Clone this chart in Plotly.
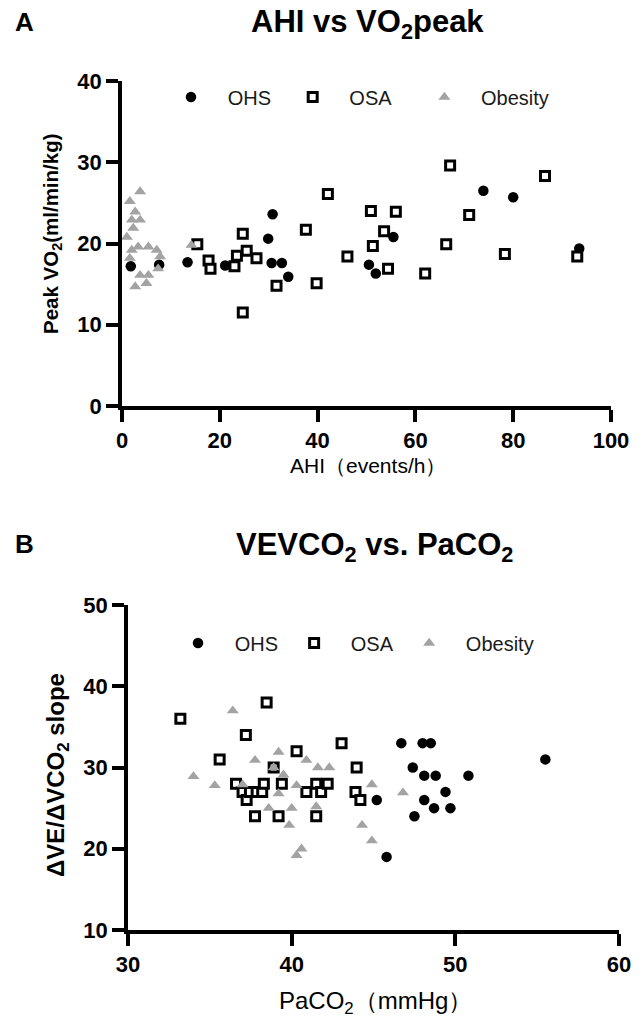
import plotly.graph_objects as go

W, H = 644, 1021
FONT = "Liberation Sans, Arial, sans-serif"
NB = "\u00a0"

# ---------------- Panel A data: AHI (events/h) vs Peak VO2 ----------------
ohs_ahi = [1.8, 7.6, 13.4, 21.1, 29.9, 30.8, 30.6, 32.7, 34.0, 50.5, 51.9, 55.5, 73.9, 80.0, 93.5]
ohs_vo2 = [17.2, 17.4, 17.7, 17.3, 20.6, 23.6, 17.6, 17.6, 15.9, 17.4, 16.3, 20.8, 26.5, 25.7, 19.4]

osa_ahi = [15.4, 17.7, 18.1, 23.0, 23.5, 25.5, 27.5, 24.7, 31.6, 24.7,
           67.1, 86.5, 42.1, 50.9, 56.0, 71.0, 37.6, 53.6, 51.3, 66.3,
           46.1, 78.3, 93.1, 54.4, 62.0, 39.8]
osa_vo2 = [19.9, 17.9, 16.9, 17.2, 18.5, 19.1, 18.2, 21.2, 14.8, 11.5,
           29.6, 28.3, 26.1, 24.0, 23.9, 23.5, 21.7, 21.5, 19.7, 19.9,
           18.4, 18.7, 18.4, 16.9, 16.3, 15.1]

obe_ahi = [3.7, 1.6, 2.7, 3.7, 2.0, 2.3, 1.0, 2.0, 3.3, 5.4,
           7.1, 7.8, 1.6, 7.4, 3.7, 5.4, 2.7, 5.0, 14.2]
obe_vo2 = [26.4, 25.2, 23.9, 22.9, 22.9, 21.9, 20.8, 19.2, 19.6, 19.6,
           19.2, 18.4, 18.2, 16.9, 16.1, 16.1, 14.7, 15.1, 19.8]

# ---------------- Panel B data: PaCO2 vs VE/VCO2 slope ----------------
ohs_paco2 = [46.7, 48.0, 48.5, 55.5, 47.4, 48.1, 48.8, 50.8, 49.4, 45.2, 48.1, 48.7, 49.7, 47.5, 45.8]
ohs_slope = [33, 33, 33, 31, 30, 29, 29, 29, 27, 26, 26, 25, 25, 24, 19]

osa_paco2 = [33.2, 35.6, 36.6, 37.0, 37.2, 37.25, 37.45, 37.76, 37.86, 38.2,
             38.3, 38.47, 38.9, 39.2, 39.4, 40.3, 40.9, 41.5, 41.5, 41.8,
             42.2, 43.05, 43.9, 43.97, 44.2]
osa_slope = [36, 31, 28, 27, 34, 26, 27, 24, 27, 27,
             28, 38, 30, 24, 28, 32, 27, 28, 24, 27,
             28, 33, 27, 30, 26]

obe_paco2 = [34.0, 35.3, 36.4, 37.0, 37.76, 38.9, 39.2, 39.5, 39.2, 38.6,
             40.0, 39.85, 40.3, 40.3, 40.6, 40.9, 41.6, 42.3, 44.9, 46.8,
             41.5, 44.3, 44.9]
obe_slope = [28.9, 27.8, 37.0, 27.9, 30.9, 30.0, 31.9, 29.1, 26.8, 25.0,
             25.0, 22.9, 27.8, 19.2, 20.0, 30.9, 30.0, 30.0, 27.9, 26.9,
             25.2, 22.9, 21.0]

group_names = ["OHS", "OSA", "Obesity"]
xticks_a = [0, 20, 40, 60, 80, 100]
yticks_a = [0, 10, 20, 30, 40]
xticks_b = [30, 40, 50, 60]
yticks_b = [10, 20, 30, 40, 50]

GRAY = "#A3A3A3"


def px(x):
    return x / W


def py(y):
    return 1 - y / H


def styles(name):
    if name == "OHS":
        return dict(symbol="circle", size=10.5, color="black")
    if name == "OSA":
        return dict(symbol="square", size=9, color="white", line=dict(color="black", width=3))
    return dict(symbol="triangle-up", size=10.5, color=GRAY)


fig = go.Figure()

pad_front = NB * 3
pad_back_a = {"OHS": NB * 3, "OSA": NB * 5, "Obesity": ""}
pad_back_b = {"OHS": NB * 2, "OSA": NB * 2, "Obesity": ""}

panel_a = [(ohs_ahi, ohs_vo2), (osa_ahi, osa_vo2), (obe_ahi, obe_vo2)]
panel_b = [(ohs_paco2, ohs_slope), (osa_paco2, osa_slope), (obe_paco2, obe_slope)]

for name, (xs, ys) in zip(group_names, panel_a):
    fig.add_trace(go.Scatter(x=xs, y=ys, mode="markers", name=pad_front + name + pad_back_a[name],
                             marker=styles(name), xaxis="x", yaxis="y", legend="legend",
                             cliponaxis=False))
for name, (xs, ys) in zip(group_names, panel_b):
    fig.add_trace(go.Scatter(x=xs, y=ys, mode="markers", name=pad_front + name + pad_back_b[name],
                             marker=styles(name), xaxis="x2", yaxis="y2", legend="legend2",
                             cliponaxis=False))

axis_common = dict(showline=True, linewidth=3.5, linecolor="black", ticks="outside",
                   ticklen=12, tickwidth=3.5, tickcolor="black", showgrid=False,
                   zeroline=False, automargin=False,
                   tickfont=dict(family=FONT, size=22, color="black", weight="bold"))

fig.update_layout(
    template="none",
    width=W, height=H,
    margin=dict(l=0, r=0, t=0, b=0, pad=0),
    paper_bgcolor="white", plot_bgcolor="white",
    font=dict(family=FONT, color="black"),
    xaxis=dict(domain=[px(122), px(611)], range=[0, 100], tickvals=xticks_a, anchor="y", **axis_common),
    yaxis=dict(domain=[py(406), py(81)], range=[0, 40], tickvals=yticks_a, anchor="x", **axis_common),
    xaxis2=dict(domain=[px(128), px(619)], range=[30, 60], tickvals=xticks_b, anchor="y2", **axis_common),
    yaxis2=dict(domain=[py(930), py(605)], range=[10, 50], tickvals=yticks_b, anchor="x2", **axis_common),
    legend=dict(orientation="h", x=px(171), y=py(97), xanchor="left", yanchor="middle",
                font=dict(family=FONT, size=20, color="#1a1a1a"), bgcolor="rgba(0,0,0,0)",
                itemclick=False, itemdoubleclick=False),
    legend2=dict(orientation="h", x=px(178), y=py(643), xanchor="left", yanchor="middle",
                 font=dict(family=FONT, size=20, color="#1a1a1a"), bgcolor="rgba(0,0,0,0)",
                 itemclick=False, itemdoubleclick=False),
    showlegend=True,
)

ann = [
    dict(text="<b>A</b>", x=px(25), y=py(22), size=26),
    dict(text="<b>AHI vs VO<sub>2</sub>peak</b>", x=px(367), y=py(24), size=31),
    dict(text="<b>B</b>", x=px(25), y=py(544), size=26),
    dict(text="<b>VEVCO<sub>2</sub> vs. PaCO<sub>2</sub></b>", x=px(374), y=py(547), size=31),
    dict(text="AHI（events/h）", x=px(368), y=py(465), size=21),
    dict(text="PaCO<sub>2</sub>（mmHg）", x=px(375), y=py(1002), size=24),
]
for a in ann:
    fig.add_annotation(text=a["text"], x=a["x"], y=a["y"], xref="paper", yref="paper",
                       xanchor="center", yanchor="middle", showarrow=False,
                       font=dict(family=FONT, size=a["size"], color="black"))

fig.add_annotation(text="<b>Peak VO<sub>2</sub>(ml/min/kg)</b>", x=px(52), y=py(234),
                   xref="paper", yref="paper", textangle=-90, showarrow=False,
                   xanchor="center", yanchor="middle",
                   font=dict(family=FONT, size=20.5, color="black"))
fig.add_annotation(text="<b>ΔVE/ΔVCO<sub>2</sub> slope</b>", x=px(57), y=py(775),
                   xref="paper", yref="paper", textangle=-90, showarrow=False,
                   xanchor="center", yanchor="middle",
                   font=dict(family=FONT, size=24, color="black"))

fig.write_html("out.html", config={"displayModeBar": False},
               post_script="document.body.style.margin='0px';")
